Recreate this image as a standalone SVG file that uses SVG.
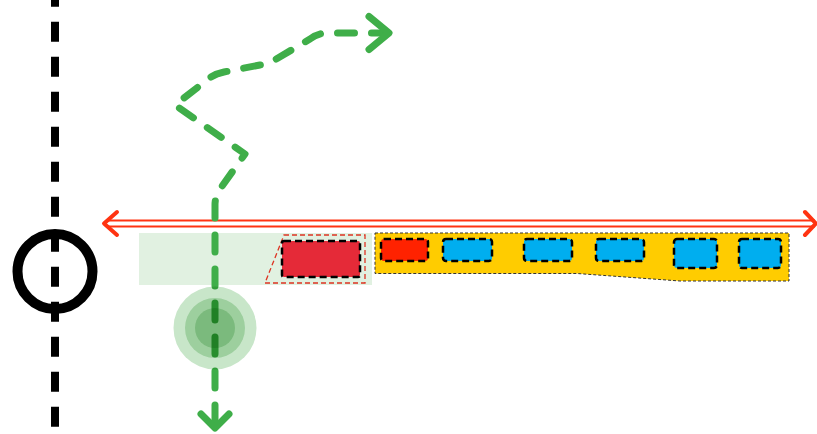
<svg xmlns="http://www.w3.org/2000/svg" width="817" height="434" viewBox="0 0 817 434">
<style>
.ax{stroke:#000;stroke-width:8;stroke-dasharray:20 15;stroke-dashoffset:13.3;fill:none}
.slot{stroke:#000;stroke-width:2.5;stroke-dasharray:7 4}
.blue{fill:#00aeef}
.gp{fill:none;stroke:#3fae49;stroke-width:7;stroke-linecap:round;stroke-linejoin:round}
.halo{fill:#c8e6c9;mix-blend-mode:multiply}
.red{fill:none;stroke:#ff3311;stroke-linecap:round;stroke-linejoin:round}
</style>
<rect width="817" height="434" fill="#fff"/>
<g id="axis">
<line class="ax" x1="55" y1="0" x2="55" y2="434"/>
<circle cx="55" cy="271.5" r="37.5" fill="none" stroke="#000" stroke-width="10"/>
</g>
<g id="zone">
<rect x="139" y="233" width="233" height="52" fill="#e1f1e1"/>
<polygon points="284,235 365,235 365,283 265,283" fill="none" stroke="#dd3322" stroke-width="1.3" stroke-dasharray="5 3"/>
<rect class="slot" x="282" y="241" width="78" height="36" rx="2" fill="#e52a38"/>
</g>
<g id="strip">
<polygon points="375,233 789,233 789,281 680,281 577,273.5 375,273.5" fill="#ffcc00" stroke="#333" stroke-width="1" stroke-dasharray="3 2"/>
<rect class="slot" x="381" y="239" width="47" height="22" rx="3" fill="#ff2200"/>
<rect class="slot blue" x="443" y="239" width="49" height="22" rx="3"/>
<rect class="slot blue" x="524" y="239" width="48" height="22" rx="3"/>
<rect class="slot blue" x="596" y="239" width="48" height="22" rx="3"/>
<rect class="slot blue" x="674" y="239" width="43" height="29" rx="3"/>
<rect class="slot blue" x="739" y="239" width="42" height="29" rx="3"/>
</g>
<g id="connectors">
<line x1="106" y1="223.5" x2="815" y2="223.5" stroke="#ff3311" stroke-width="8"/>
<line x1="100" y1="223.5" x2="817" y2="223.5" stroke="#fff" stroke-width="4"/>
<polyline class="red" points="117,212 104,223.5 117,235" stroke-width="4"/>
<polyline class="red" points="805,212 816,223.5 805,235" stroke-width="4"/>
<path class="gp" d="M215 422 L215 205 Q215 196 220 189 L245 154 L175 105 L207 80 Q214 74 224 72 L260 65 Q270 63 278 58 L310 39 Q318 33 328 33 L384 33" stroke-dasharray="17 17"/>
<polyline class="gp" points="369,16.5 389,33 369,49.5" stroke-width="10"/>
<polyline class="gp" points="201,414 215,428 229,414" stroke-width="7"/>
</g>
<g id="marker">
<circle class="halo" cx="215" cy="328" r="41.5"/>
<circle class="halo" cx="215" cy="328" r="30"/>
<circle class="halo" cx="215" cy="328" r="20"/>
</g>
</svg>
